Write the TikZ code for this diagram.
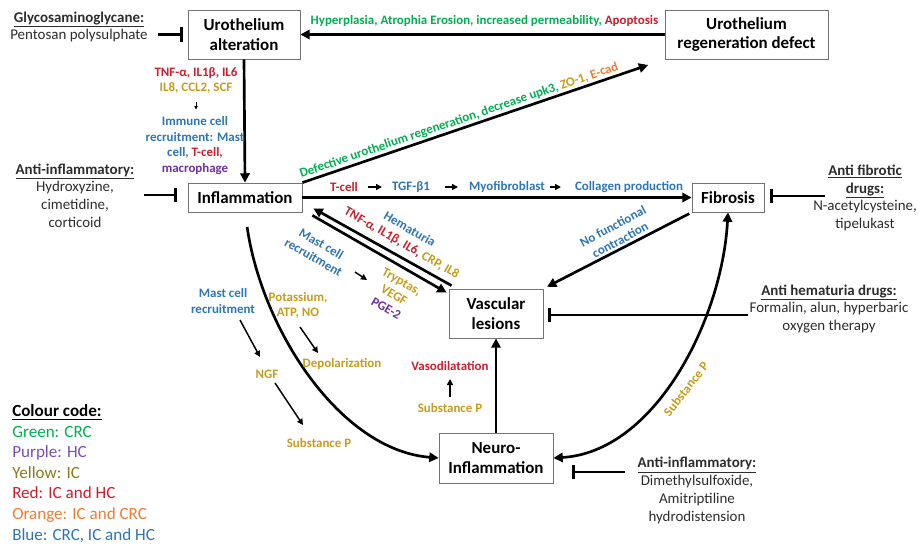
\documentclass[tikz,border=0pt]{standalone}
\usepackage{fontspec}
\setmainfont{Carlito}
\usetikzlibrary{arrows.meta,calc}
\definecolor{cgreen}{RGB}{0,176,80}
\definecolor{cred}{RGB}{204,30,45}
\definecolor{cyellow}{RGB}{198,156,28}
\definecolor{cblue}{RGB}{46,117,182}
\definecolor{cpurple}{RGB}{112,48,160}
\definecolor{corange}{RGB}{237,125,49}
\definecolor{lyellow}{RGB}{140,120,30}
\definecolor{lpurple}{RGB}{120,80,180}
\definecolor{drugtext}{RGB}{45,45,45}
\begin{document}
\begin{tikzpicture}[x=0.75pt,y=-0.75pt,
  box/.style={draw=black!55,line width=0.6pt,fill=white,align=center,inner sep=0pt,font=\fontsize{12.7}{14.5}\selectfont\bfseries},
  lbl/.style={align=center,inner sep=1pt,font=\fontsize{9.7}{11.6}\selectfont\bfseries},
  drug/.style={align=center,inner sep=0pt,text=drugtext,font=\fontsize{11.2}{13.3}\selectfont},
  arr/.style={line width=2pt,-{Triangle[length=7pt,width=7pt]}},
  darr/.style={line width=2pt,{Triangle[length=7pt,width=7pt]}-{Triangle[length=7pt,width=7pt]}},
  inhib/.style={line width=2pt,-{Bar[width=11pt]}},
  sarr/.style={line width=1.1pt,-{Triangle[length=4.5pt,width=4.5pt]}},
  tarr/.style={line width=0.6pt,-{Triangle[length=2.5pt,width=2.5pt]}},
]
\useasboundingbox (0,0) rectangle (919,546);

% boxes
\node[box,minimum width=84pt,minimum height=36.75pt] (ua) at (244,34.5) {Urothelium\\alteration};
\node[box,minimum width=122.25pt,minimum height=36.75pt] (regen) at (746.5,34.5) {Urothelium\\regeneration defect};
\node[box,minimum width=85.5pt,minimum height=21.75pt] (infl) at (245,197.5) {Inflammation};
\node[box,minimum width=54pt,minimum height=21.75pt] (fib) at (728,197.5) {Fibrosis};
\node[box,minimum width=70.5pt,minimum height=36.75pt] (vasc) at (496,313.5) {Vascular\\lesions};
\node[box,minimum width=85.5pt,minimum height=37.5pt] (neuro) at (496,458) {Neuro-\\Inflammation};

% drugs
\node[drug] (gly) at (79,27) {\underline{\textbf{Glycosaminoglycane:}}\\Pentosan polysulphate};
\node[drug] (ai1) at (75,195.5) {\underline{\textbf{Anti-inflammatory:}}\\Hydroxyzine,\\cimetidine,\\corticoid};
\node[drug] (afib) at (865,198) {\underline{\textbf{Anti fibrotic}}\\\underline{\textbf{drugs:}}\\N-acetylcysteine,\\tipelukast};
\node[drug] (ahem) at (829,309) {\underline{\textbf{Anti hematuria drugs:}}\\Formalin, alun, hyperbaric\\oxygen therapy};
\node[drug] (ai2) at (697,490.5) {\underline{\textbf{Anti-inflammatory:}}\\Dimethylsulfoxide,\\Amitriptiline\\hydrodistension};

% legend
\node[anchor=west,align=left,inner sep=0pt,font=\fontsize{12.8}{15.4}\selectfont] (legend) at (12,473.5)
 {\underline{\textbf{Colour code:}}\\\textcolor{cgreen}{Green: CRC}\\\textcolor{lpurple}{Purple: HC}\\\textcolor{lyellow}{Yellow: IC}\\\textcolor{cred}{Red: IC and HC}\\\textcolor{corange}{Orange: IC and CRC}\\\textcolor{cblue}{Blue: CRC, IC and HC}};

% inhibitors
\coordinate (gS) at (158,34.5);
\draw[inhib,shorten >=3.75pt] (gS) -- (ua.west);
\coordinate (aS) at (144,195);
\draw[inhib,shorten >=8.25pt] (aS) -- (aS -| infl.west);
\coordinate (fS) at (825,196);
\draw[inhib,shorten >=4.5pt] (fS) -- (fS -| fib.east);
\coordinate (hS) at (748,315);
\draw[inhib,shorten >=3.75pt] (hS) -- (hS -| vasc.east);
\coordinate (nS) at (625,472);
\draw[inhib,shorten >=14.25pt] (nS) -- (nS -| neuro.east);

% main arrows
\draw[arr] (regen.west) -- (ua.east);
\node[lbl] (hyp) at (484.5,21) {\textcolor{cgreen}{Hyperplasia, Atrophia Erosion, increased permeability, }\textcolor{cred}{Apoptosis}};
\draw[arr] (ua.south) -- (infl.north);
\draw[arr] (infl.east) -- (fib.west);
\draw[arr,shorten <=2pt,shorten >=3pt] (fib.south west) -- (vasc.north east);
\draw[arr] (neuro.north) -- (vasc.south);
\draw[arr,shorten >=13pt] (infl.north east) -- node[lbl,sloped,above,pos=0.44]
 {\textcolor{cgreen}{Defective urothelium regeneration, decrease upk3, }\textcolor{cyellow}{ZO-1, }\textcolor{corange}{E-cad}} (regen.south west);
\draw[arr] ($(vasc.north west)+(3,-3)$) -- ($(infl.south east)+(11,-4)$);
\draw[arr] ($(infl.south east)+(10,3)$) -- ($(vasc.north west)+(-2,4)$);
\draw[arr,shorten <=11pt] (infl.south) .. controls (262,330) and (340,450) .. (neuro.west);
\draw[darr] (neuro.east) .. controls (655,452) and (722,320) .. (fib.south);

% labels
\node[lbl] (cyt) at (196,80.5) {\textcolor{cred}{TNF-α, IL1β, IL6}\\\textcolor{cyellow}{IL8, CCL2, SCF}};
\node[lbl,text=cblue] (imm) at (195,145.5) {Immune cell\\recruitment: Mast\\cell, \textcolor{cred}{T-cell,}\\\textcolor{cpurple}{macrophage}};
\draw[tarr] ($(cyt)+(0,21.5)$) -- ($(imm)+(1,-36)$);

\node[lbl,text=cred] (tcell) at (344,187) {T-cell};
\node[lbl,text=cblue] (tgf) at (411,187) {TGF-β1};
\node[lbl,text=cblue] (myo) at (507,187) {Myofibroblast};
\node[lbl,text=cblue] (coll) at (629,187) {Collagen production};
\draw[sarr,line width=1.5pt] ($(tcell)+(24,0)$) -- ($(tgf)+(-29,0)$);
\draw[sarr,line width=1.5pt] ($(tgf)+(34,0)$) -- ($(myo)+(-49,0)$);
\draw[sarr,line width=1.5pt] ($(myo)+(43,0)$) -- ($(coll)+(-68,0)$);

\node[lbl,rotate=-30] (hem) at (405.5,236.5) {\textcolor{cblue}{Hematuria}\\\textcolor{cred}{TNF-α, IL1β, IL6, }\textcolor{cyellow}{CRP, IL8}};
\node[lbl,rotate=-30,text=cblue] (mast1) at (317.5,250.5) {Mast cell\\recruitment};
\node[lbl,rotate=-30,text=cyellow] (tryp) at (394,295) {Tryptas,\\VEGF\\\textcolor{cpurple}{PGE-2}};
\draw[sarr] ($(mast1)+(37.5,21.5)$) -- ($(tryp)+(-27,-15)$);
\node[lbl,rotate=28,text=cblue] (nof) at (616.5,233) {No functional\\contraction};

\node[lbl,text=cblue] (mast2) at (223,301) {Mast cell\\recruitment};
\node[lbl,text=cyellow] (ngf) at (267,374) {NGF};
\node[lbl,text=cyellow] (subp1) at (319,443) {Substance P};
\node[lbl,text=cyellow] (pot) at (298,305.5) {Potassium,\\ATP, NO};
\node[lbl,text=cyellow] (depol) at (342,364) {Depolarization};
\draw[sarr] ($(mast2)+(17,19)$) -- ($(ngf)+(-7,-17)$);
\draw[sarr] ($(ngf)+(8,9)$) -- ($(subp1)+(-16,-18)$);
\draw[sarr] ($(pot)+(2,21.5)$) -- ($(depol)+(-24,-11)$);

\node[lbl,text=cred] (vaso) at (450,366) {Vasodilatation};
\node[lbl,text=cyellow] (subp2) at (450,408) {Substance P};
\draw[sarr] ($(subp2)+(0,-11)$) -- ($(vaso)+(0,13)$);

\node[lbl,rotate=52,text=cyellow] (subp3) at (686,389) {Substance P};
\end{tikzpicture}
\end{document}
